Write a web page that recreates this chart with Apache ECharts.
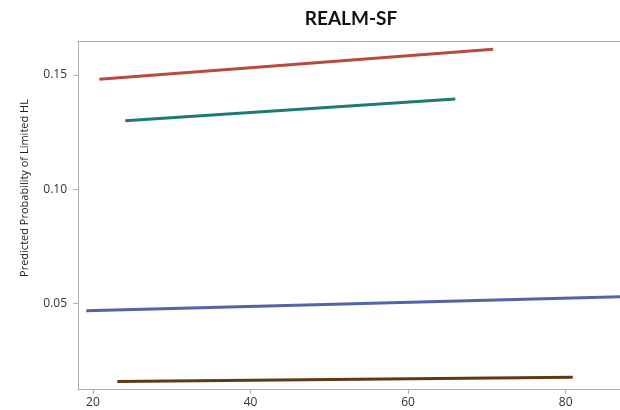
<!DOCTYPE html>
<html>
<head>
<meta charset="utf-8">
<script src="https://cdn.jsdelivr.net/npm/echarts@6/dist/echarts.min.js"></script>
<style>
  html, body { margin: 0; padding: 0; background: #fff; }
  #chart { width: 620px; height: 410px; }
</style>
</head>
<body>
<div id="chart"></div>
<script>
// Predicted probability lines by group (age on x)
const chartTitle = 'REALM-SF';
const yAxisTitle = 'Predicted Probability of Limited HL';
const xTicks = [20, 40, 60, 80];
const yTicks = [0.05, 0.10, 0.15];

const redLine = [[20.8, 0.1482], [70.8, 0.1613]];
const tealLine = [[24.1, 0.1300], [66.0, 0.1395]];
const blueLine = [[19.15, 0.0468], [86.9, 0.0529]];
const brownLine = [[23.1, 0.0158], [80.9, 0.0177]];

const seriesList = [
  { data: redLine, color: '#b84b3f' },
  { data: tealLine, color: '#1e7b70' },
  { data: blueLine, color: '#5563a8' },
  { data: brownLine, color: '#5e3b12' }
];

const chart = echarts.init(document.getElementById('chart'));
const labelFont = { fontFamily: 'Open Sans, Noto Sans, sans-serif', fontSize: 12, color: '#333' };

chart.setOption({
  animation: false,
  title: {
    text: chartTitle,
    left: 346,
    top: 4,
    textAlign: 'center',
    textStyle: { fontFamily: 'Lato, sans-serif', fontWeight: 'bold', fontSize: 19, color: '#111' }
  },
  // y-axis title sits a little above the axis middle
  graphic: [{
    type: 'text',
    x: 25,
    y: 188,
    rotation: Math.PI / 2,
    style: {
      text: yAxisTitle,
      textAlign: 'center',
      textVerticalAlign: 'middle',
      fontFamily: 'Open Sans, Noto Sans, sans-serif',
      fontSize: 11,
      fill: '#222'
    }
  }],
  grid: { left: 78, top: 41, right: 0, bottom: 21 },
  xAxis: [{
    type: 'value',
    min: 18.1,
    max: 86.9,
    axisLine: { show: true, lineStyle: { color: '#b0b0b0', width: 1 } },
    axisTick: { show: true, customValues: xTicks, length: 5, lineStyle: { color: '#b0b0b0' } },
    axisLabel: Object.assign({ customValues: xTicks, margin: 8 }, labelFont),
    splitLine: { show: false }
  }, {
    type: 'value',
    position: 'top',
    min: 18.1,
    max: 86.9,
    axisLine: { show: true, lineStyle: { color: '#b0b0b0', width: 1 } },
    axisTick: { show: false },
    axisLabel: { show: false },
    splitLine: { show: false }
  }],
  yAxis: {
    type: 'value',
    min: 0.0125,
    max: 0.1649,
    axisLine: { show: true, lineStyle: { color: '#b0b0b0', width: 1 } },
    axisTick: { show: true, customValues: yTicks, length: 5, lineStyle: { color: '#b0b0b0' } },
    axisLabel: Object.assign({
      customValues: yTicks,
      margin: 11,
      formatter: v => v.toFixed(2)
    }, labelFont),
    splitLine: { show: false }
  },
  series: seriesList.map(s => ({
    type: 'line',
    data: s.data,
    showSymbol: false,
    symbol: 'none',
    lineStyle: { color: s.color, width: 3 },
    itemStyle: { color: s.color }
  }))
});
</script>
</body>
</html>
